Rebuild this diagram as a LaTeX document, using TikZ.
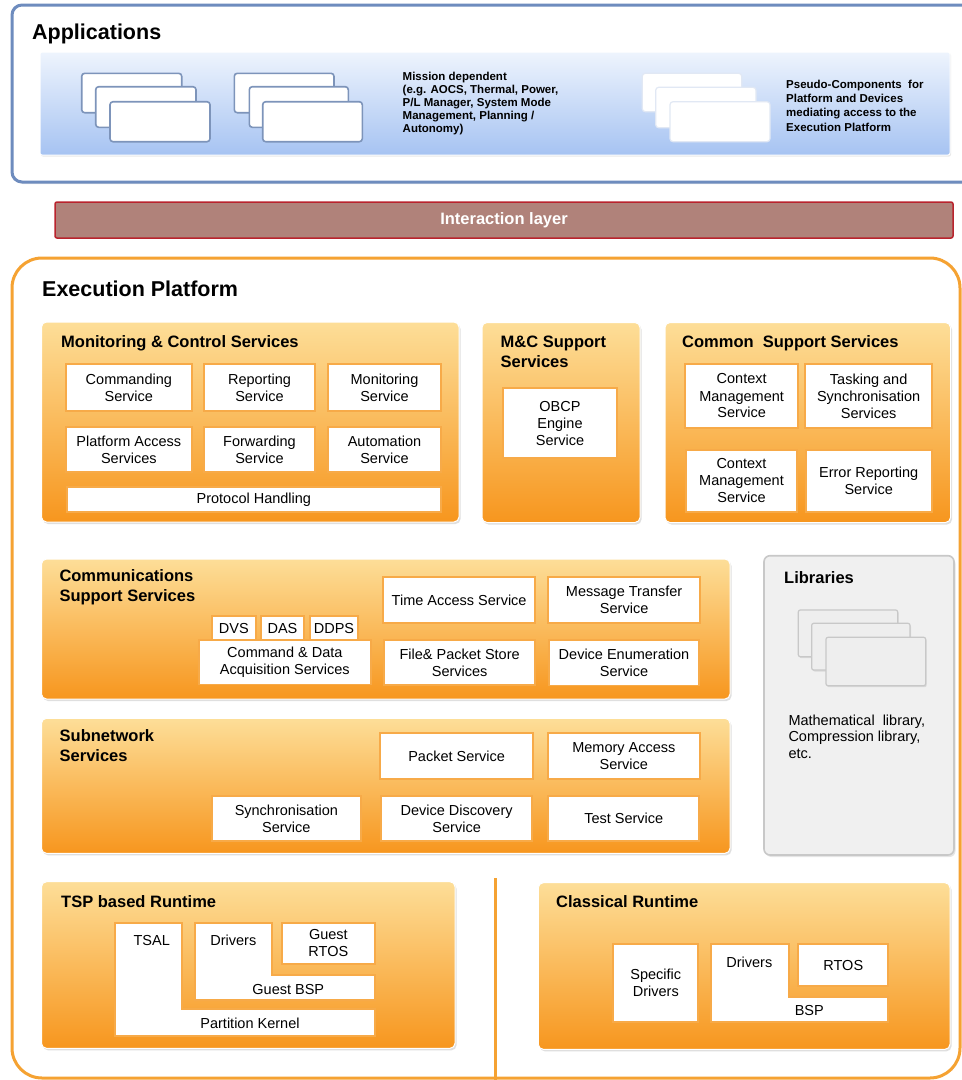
\documentclass[tikz,border=0pt]{standalone}
\usepackage{fontspec}
\setmainfont{Liberation Sans}
\usetikzlibrary{fit,shadows}
\definecolor{appBlue}{RGB}{110,140,190}
\definecolor{appTop}{RGB}{238,244,253}
\definecolor{appBot}{RGB}{166,195,242}
\definecolor{stkBorder}{RGB}{125,148,186}
\definecolor{pseudoBorder}{RGB}{225,232,244}
\definecolor{interFill}{RGB}{176,130,122}
\definecolor{interDraw}{RGB}{185,35,45}
\definecolor{exOrange}{RGB}{245,162,50}
\definecolor{orTop}{RGB}{253,222,152}
\definecolor{orBot}{RGB}{247,150,30}
\definecolor{boxOr}{RGB}{247,170,72}
\definecolor{libFill}{RGB}{240,240,240}
\definecolor{libDraw}{RGB}{200,200,200}
\definecolor{libStk}{RGB}{238,238,238}
\newcommand{\myBigFont}{\fontsize{21.5}{25}\selectfont\bfseries}
\newcommand{\myGrpFont}{\fontsize{16.5}{20}\selectfont\bfseries}
\newcommand{\mySvcFont}{\fontsize{14.5}{17}\selectfont}
\newcommand{\mySmallFont}{\fontsize{11.5}{13.2}\selectfont\bfseries}
\newcommand{\myPseudoFont}{\fontsize{11.5}{14.2}\selectfont\bfseries}
\newcommand{\myLibFont}{\fontsize{14.5}{16.7}\selectfont}
\tikzset{
  svc/.style={draw=boxOr, line width=1.8pt, fill=white, inner sep=0pt},
  lshape/.style={draw=boxOr, line width=1.8pt, fill=white},
  lbl/.style={inner sep=0pt, align=center, font=\mySvcFont},
  grp/.style={inner sep=0pt, rounded corners=5pt, top color=orTop, bottom color=orBot, draw=white, line width=1pt,
    drop shadow={shadow xshift=1.5pt, shadow yshift=-2pt, opacity=0.25}},
  grptitle/.style={anchor=north west, inner sep=0pt, align=left, font=\myGrpFont},
  stk/.style={draw=stkBorder, line width=1.6pt, fill=white, rounded corners=3pt, inner sep=0pt},
  pstk/.style={draw=pseudoBorder, line width=1.2pt, fill=white, rounded corners=3pt, inner sep=0pt},
  lstk/.style={draw=libDraw, line width=1.2pt, fill=libStk, rounded corners=2pt, inner sep=0pt,
    drop shadow={shadow xshift=1pt, shadow yshift=-1.5pt, opacity=0.2}},
}
\begin{document}
\begin{tikzpicture}[x=1pt,y=-1pt]
\useasboundingbox (0,0) rectangle (962,1080);
\clip (0,0) rectangle (962,1080);
\fill[white] (0,0) rectangle (962,1080);

% ---------------- Applications ----------------
\node[fit={(12,5)(1000,182)}, inner sep=0pt, draw=appBlue, line width=3pt, rounded corners=10pt, fill=white,
  drop shadow={shadow xshift=1pt, shadow yshift=-2pt, opacity=0.15}] (apps) {};
\node[anchor=north west, inner sep=0pt, font=\myBigFont] (appsT) at (32,23.5) {Applications};
\node[fit={(40,52)(950,155)}, inner sep=0pt, top color=appTop, bottom color=appBot, draw=white, line width=1pt,
  rounded corners=2pt, drop shadow={shadow xshift=1pt, shadow yshift=-1.5pt, opacity=0.18}] (appPanel) {};

\node[stk, fit={(81.7,73.3)(181.7,112.7)}] (ga1) {};
\node[stk, fit={(95.7,86.7)(196,127.3)}] (ga2) {};
\node[stk, fit={(110,101.7)(210,141.7)}] (ga3) {};
\node[stk, fit={(234.3,73.3)(334,112.7)}] (gb1) {};
\node[stk, fit={(249.3,86.7)(348.3,127.3)}] (gb2) {};
\node[stk, fit={(262.7,101.7)(362.3,141.7)}] (gb3) {};
\node[pstk, fit={(642.3,73.3)(741.7,111.7)}] (gc1) {};
\node[pstk, fit={(655.7,87.3)(756,127.7)}] (gc2) {};
\node[pstk, fit={(670,101.7)(770,141.7)}] (gc3) {};

\node[anchor=north west, inner sep=0pt, align=left, font=\mySmallFont] (mission) at (402.5,71.5)
  {Mission dependent\\(e.g. AOCS, Thermal, Power,\\P/L Manager, System Mode\\Management, Planning /\\Autonomy)};
\node[anchor=north west, inner sep=0pt, align=left, font=\myPseudoFont] (pseudo) at (786,80)
  {Pseudo-Components\ \ for\\Platform and Devices\\mediating access to the\\Execution Platform};

% ---------------- Interaction layer ----------------
\node[fit={(55,202)(953,238)}, inner sep=0pt, fill=interFill, draw=interDraw, line width=1.5pt,
  rounded corners=2pt, label={[inner sep=0pt, text=white, font=\myGrpFont]center:Interaction layer}] (inter) {};

% ---------------- Execution Platform ----------------
\node[fit={(12,258)(960,1078)}, inner sep=0pt, draw=exOrange, line width=3pt, rounded corners=30pt, fill=white] (exec) {};
\node[anchor=north west, inner sep=0pt, font=\myBigFont] (execT) at (42,281) {Execution Platform};

% Monitoring & Control Services
\node[grp, fit={(41.5,322)(459,522)}] (mcs) {};
\node[grptitle] (mcsT) at (61,335) {Monitoring \& Control Services};
\node[svc, fit={(66,364.3)(191.7,411)}, label={[lbl]center:{Commanding\\Service}}] (cmd) {};
\node[svc, fit={(203.7,364.3)(315.3,411)}, label={[lbl]center:{Reporting\\Service}}] (rep) {};
\node[svc, fit={(328,364.3)(441,411)}, label={[lbl]center:{Monitoring\\Service}}] (mon) {};
\node[svc, fit={(66,427.3)(191.7,472.3)}, label={[lbl]center:{Platform Access\\Services}}] (pas) {};
\node[svc, fit={(203.7,427.3)(315.3,472.3)}, label={[lbl]center:{Forwarding\\Service}}] (fwd) {};
\node[svc, fit={(328,427.3)(441,472.3)}, label={[lbl]center:{Automation\\Service}}] (aut) {};
\node[svc, fit={(66.7,486.7)(441,512.3)}, label={[lbl]center:{Protocol Handling}}] (proto) {};

% M&C Support Services
\node[grp, fit={(482,322.5)(640,522.5)}] (mcss) {};
\node[grptitle] (mcssT) at (500.5,335.5) {M\&C Support\\Services};
\node[svc, fit={(503.3,388.3)(616.7,458.3)}, label={[lbl]center:{OBCP\\Engine\\Service}}] (obcp) {};

% Common Support Services
\node[grp, fit={(665,322.5)(950.5,522.5)}] (css) {};
\node[grptitle] (cssT) at (682,335.5) {Common\ \ Support Services};
\node[svc, fit={(685,364.3)(798.3,427.7)}, label={[lbl]center:{Context\\Management\\Service}}] (ctx1) {};
\node[svc, fit={(805,364.3)(932.3,427.7)}, label={[lbl]center:{Tasking and\\Synchronisation\\Services}}] (task) {};
\node[svc, fit={(685.7,450)(797.3,511.7)}, label={[lbl]center:{Context\\Management\\Service}}] (ctx2) {};
\node[svc, fit={(805.7,450)(931.7,511.7)}, label={[lbl]center:{Error Reporting\\Service}}] (err) {};

% Communications Support Services
\node[grp, fit={(41.5,559)(730,699)}] (comm) {};
\node[grptitle] (commT) at (59.3,569.5) {Communications\\Support Services};
\node[svc, fit={(211.7,616)(256,640)}, label={[lbl]center:{DVS}}] (dvs) {};
\node[svc, fit={(261,616)(304,640)}, label={[lbl]center:{DAS}}] (das) {};
\node[svc, fit={(310,616)(358,640)}, label={[lbl]center:{DDPS}}] (ddps) {};
\node[svc, fit={(199,640)(370.7,684.5)}, label={[lbl]center:{Command \& Data\\Acquisition Services}}] (cdas) {};
\node[svc, fit={(383.3,576.7)(535,623.3)}, label={[lbl]center:{Time Access Service}}] (tas) {};
\node[svc, fit={(548.3,576.7)(700,623.3)}, label={[lbl]center:{Message Transfer\\Service}}] (mts) {};
\node[svc, fit={(384.3,640)(535,685)}, label={[lbl]center:{File\& Packet Store\\Services}}] (fps) {};
\node[svc, fit={(549,640)(699,685.5)}, label={[lbl]center:{Device Enumeration\\Service}}] (des) {};

% Subnetwork Services
\node[grp, fit={(41.5,718.3)(730,853.3)}] (sub) {};
\node[grptitle] (subT) at (59.5,729) {Subnetwork\\Services};
\node[svc, fit={(380,733.3)(533.3,779.3)}, label={[lbl]center:{Packet Service}}] (pkt) {};
\node[svc, fit={(547.7,733.3)(700,779.3)}, label={[lbl]center:{Memory Access\\Service}}] (mem) {};
\node[svc, fit={(211.7,796)(361,840.7)}, label={[lbl]center:{Synchronisation\\Service}}] (sync) {};
\node[svc, fit={(381,796)(532.3,840.7)}, label={[lbl]center:{Device Discovery\\Service}}] (dds) {};
\node[svc, fit={(548.3,796)(699.3,840.7)}, label={[lbl]center:{Test Service}}] (test) {};

% Libraries
\node[fit={(764,555.7)(954,855)}, inner sep=0pt, fill=libFill, draw=libDraw, line width=1.6pt, rounded corners=6pt,
  drop shadow={shadow xshift=1.5pt, shadow yshift=-2pt, opacity=0.2}] (lib) {};
\node[grptitle] (libT) at (784,571.5) {Libraries};
\node[lstk, fit={(798.3,610)(897.7,656.7)}] (ls1) {};
\node[lstk, fit={(811.7,623.3)(910,670)}] (ls2) {};
\node[lstk, fit={(826,637.3)(925.7,685.7)}] (ls3) {};
\node[anchor=north west, inner sep=0pt, align=left, font=\myLibFont] (libtxt) at (788.3,714.5)
  {Mathematical\ \ library,\\Compression library,\\etc.};

% Separator
\coordinate (sepTop) at (495,878);
\coordinate (sepBot) at (495,1080);
\draw[exOrange, line width=3pt] (sepTop) -- (sepBot);

% TSP based Runtime
\node[grp, fit={(41.5,881.7)(455,1048.3)}] (tsp) {};
\node[grptitle] (tspT) at (61,895) {TSP based Runtime};
\draw[lshape] (115,922.7) -- (181.7,922.7) -- (181.7,1009) -- (375,1009) -- (375,1036) -- (115,1036) -- cycle;
\draw[lshape] (195,922.7) -- (271.7,922.7) -- (271.7,975) -- (375,975) -- (375,1000) -- (195,1000) -- cycle;
\node[svc, fit={(281.7,922.7)(375,964)}, label={[lbl]center:{Guest\\RTOS}}] (grtos) {};
\node[lbl] (tsal) at (151.7,940) {TSAL};
\node[lbl] (tdrv) at (233.3,940.5) {Drivers};
\node[lbl] (gbsp) at (288.3,989) {Guest BSP};
\node[lbl] (pk) at (250,1023) {Partition Kernel};

% Classical Runtime
\node[grp, fit={(538.3,882.7)(950,1049.3)}] (cls) {};
\node[grptitle] (clsT) at (556,895.7) {Classical Runtime};
\node[svc, fit={(613.3,944.3)(698.3,1021.7)}, label={[lbl]center:{Specific\\Drivers}}] (sdrv) {};
\draw[lshape] (711,944.3) -- (789.3,944.3) -- (789.3,996.7) -- (888.3,996.7) -- (888.3,1021.7) -- (711,1021.7) -- cycle;
\node[svc, fit={(798.3,944.3)(888.3,985.7)}, label={[lbl]center:{RTOS}}] (rtos) {};
\node[lbl] (cdrv) at (749.3,962) {Drivers};
\node[lbl] (bsp) at (809.3,1010) {BSP};
\end{tikzpicture}
\end{document}
